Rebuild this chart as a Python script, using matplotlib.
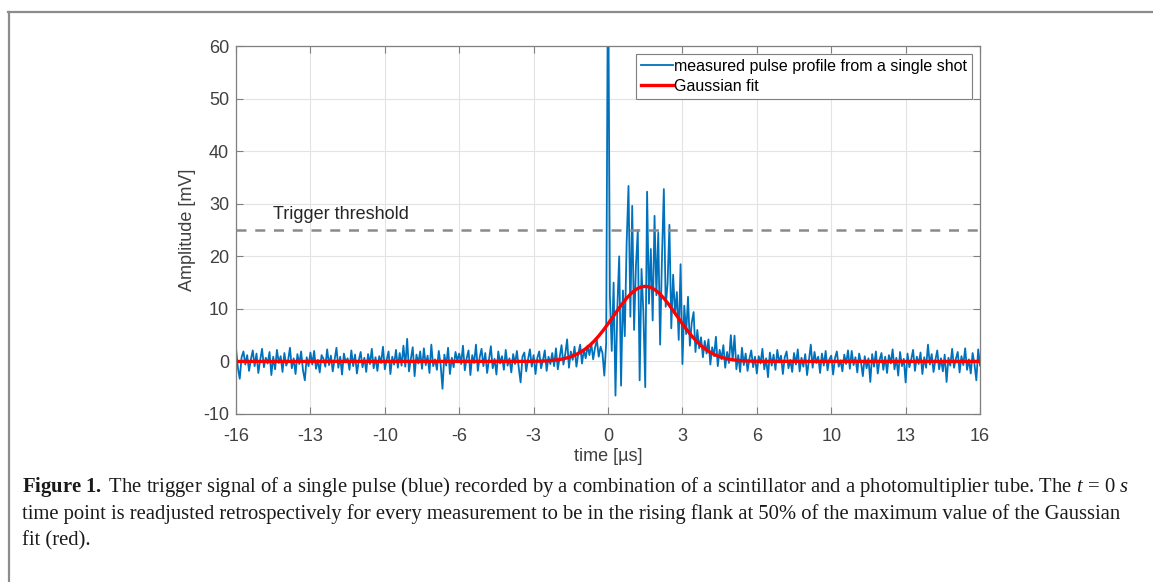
import numpy as np
import matplotlib.pyplot as plt
from matplotlib.lines import Line2D

plt.rcParams['font.family'] = ['Liberation Sans', 'DejaVu Sans']
plt.rcParams['axes.unicode_minus'] = False
plt.rcParams['mathtext.fontset'] = 'custom'
plt.rcParams['mathtext.rm'] = 'Liberation Serif'
plt.rcParams['mathtext.it'] = 'Liberation Serif:italic'
plt.rcParams['mathtext.bf'] = 'Liberation Serif:bold'

# single shot, sampled every 0.08 us from -16 us to 16 us
baseline_before = [
    2.5, -1.2, -3.3, 0.8, 1.9, -0.6, 1.2, -1.8, 0.4, 2.1,
    -0.9, 1.5, -2.2, 0.3, 2.4, -1.1, 0.7, -0.4, 1.8, -2.6,
    0.9, -1.5, 2.2, -0.3, 1.0, -2.0, 1.6, -0.8, 0.2, 2.6,
    -1.3, 0.6, -2.4, 1.4, -0.5, 1.9, -1.7, -3.6, 0.8, -0.9,
    1.7, -0.6, 2.0, -1.4, 0.3, -2.1, 1.2, 0.5, -1.0, 2.3,
    -0.7, 1.1, -1.9, 0.4, 2.6, -1.2, 0.9, -2.5, 1.5, -0.2,
    0.6, -1.6, 2.1, -0.9, 1.3, -2.3, 0.2, 1.8, -1.1, 0.7,
    -2.0, 1.4, -0.5, 2.4, -1.3, 0.8, -1.8, 1.0, -0.3, 2.8,
    -1.5, 0.3, 1.9, -2.4, 0.9, -0.6, 2.2, -1.2, 1.6, -0.8,
    3.0, -1.0, 4.3, -1.9, 0.5, 2.7, -2.8, 1.3, -0.4, 1.9,
    -1.4, 2.5, -0.7, 1.1, -2.2, 3.2, -0.9, 0.4, -1.6, 2.0,
    -0.6, -5.2, 1.3, -0.8, 2.6, -2.4, 0.7, -1.1, 1.8, 0.1,
    1.5, -0.5, 3.0, -1.7, 0.6, 2.1, -2.6, 1.2, -0.3, 3.2,
    -1.8, 0.8, 2.4, -0.9, 1.6, -2.2, 0.3, 2.9, -1.3, 0.5,
    -2.5, 1.9, -0.4, 1.0, -1.6, 2.2, -0.8, 0.6, -2.1, 1.4,
    -0.5, 2.0, -1.2, -4.0, 0.9, 1.7, -1.9, 0.4, 2.3, -1.0,
    1.2, -2.4, 0.7, 1.9, -1.3, 0.2, 2.1, -1.8, 0.9, -0.5,
    1.6, -0.9, 2.5, -1.5, 0.8, 3.1, -0.6, 1.4, 4.2, -1.2,
    1.9, 0.3, 2.8, -1.0, 1.5, 3.2, -0.4, 2.2, 0.6, 3.0,
    1.2, 3.4, 0.4, 2.6, 4.1, 0.9, 2.8, 1.6, -2.7, 3.5,
]
pulse = [
    80.0, 12.5, 2.0, 15.0, -6.5, 10.2, 20.0, -4.6, 13.5, 4.8,
    22.5, 33.4, 8.5, 29.6, 6.0, 18.2, 25.0, -3.6, 17.6, 9.3,
    -4.9, 32.3, 11.0, 21.4, 7.8, 27.7, 12.6, 24.5, 3.2, 19.8,
    32.8, 10.4, 14.8, 26.0, 6.3, 16.5, 9.0, 13.2, 4.1, 18.5,
    -0.5, 10.6, 5.2, 12.3, 3.0, 7.4, 9.4, 1.8, 6.0, 2.5,
    4.6, 0.8, 3.9, 1.5, 4.2, -0.6, 2.7, 1.0, 4.7, -0.9,
    2.2, 0.4, 3.1, -1.2, 1.8, -0.3, 5.0, 0.2, 4.9, -1.5,
]
baseline_after = [
    1.2, -2.0, 2.6, -0.7, 1.5, -1.8, 0.5, 2.1, -1.1, 0.9,
    -2.3, 1.0, -0.4, 2.4, -1.5, 0.6, -3.0, 1.7, -0.8, 1.3,
    -1.6, 2.2, -0.2, 1.1, -2.4, 0.8, 1.9, -1.3, 0.3, -2.0,
    1.6, -0.6, 2.3, -1.9, 0.7, -1.0, 1.4, -2.6, 0.2, 3.2,
    -1.2, 1.8, -0.3, 0.9, -2.2, 1.5, -0.8, 2.0, -1.7, 0.4,
    1.1, -2.5, 0.6, 1.9, -1.0, 0.2, -1.9, 1.3, -0.5, 2.1,
    -1.4, 2.0, -0.7, 0.8, -2.1, 1.5, -0.2, -2.8, 1.0, -1.3,
    0.6, -3.9, 1.4, -1.0, 1.9, -2.3, 0.3, 1.6, -1.6, 0.9,
    -2.2, 1.2, -0.4, 2.3, -1.5, 0.7, -2.7, 1.8, -0.9, 0.5,
    -4.0, 1.5, -1.1, 0.4, 2.2, -1.8, 0.9, -0.5, 1.7, -2.4,
    0.8, -1.2, 3.2, -0.6, 1.4, -2.0, 0.3, 2.1, -1.5, 0.6,
    -1.9, 1.3, -3.9, 0.7, -0.8, 2.4, -1.2, 0.5, 1.8, -2.1,
    1.0, -0.7, 2.5, -1.6, 0.4, -2.3, 1.6, -0.5, -3.6, 2.3,
    -0.8,
]

# Gaussian fit evaluated every 0.2 us around the pulse, flat outside
fit_core = [
    0.01, 0.02, 0.03, 0.05, 0.08, 0.12, 0.19, 0.29, 0.43, 0.63,
    0.90, 1.26, 1.72, 2.30, 3.01, 3.86, 4.85, 5.96, 7.16, 8.42,
    9.69, 10.91, 12.03, 12.97, 13.70, 14.15, 14.30, 14.15, 13.70, 12.97,
    12.03, 10.91, 9.69, 8.42, 7.16, 5.96, 4.85, 3.86, 3.01, 2.30,
    1.72, 1.26, 0.90, 0.63, 0.43, 0.29, 0.19, 0.12, 0.08, 0.05,
    0.03, 0.02, 0.01,
]
trigger_level = 25
x_tick_labels = ['-16', '-13', '-10', '-6', '-3', '0', '3', '6', '10', '13', '16']

signal = np.array(baseline_before + pulse + baseline_after)
t = np.linspace(-16, 16, len(signal))
fit_t = np.concatenate(([-16], np.linspace(-3.6, 6.8, len(fit_core)), [16]))
fit_v = np.array([0.0] + fit_core + [0.0])

fig = plt.figure(figsize=(11.53, 5.82), dpi=100)
ax = fig.add_axes([0.2047, 0.2887, 0.6453, 0.632])

ax.plot(t, signal, color='#0072BD', lw=1.3,
        label='measured pulse profile from a single shot')
ax.plot(fit_t, fit_v, color='#FF0000', lw=2.4, label='Gaussian fit')
ax.axhline(trigger_level, color='#8a8a8a', lw=1.8, dashes=(4, 3.5), zorder=3)
ax.text(-14.4, 28, 'Trigger threshold', fontsize=13, color='#262626', va='center')

ax.set_xlim(-16, 16)
ax.set_ylim(-10, 60)
ax.set_xticks(np.linspace(-16, 16, 11))
ax.set_xticklabels(x_tick_labels)
ax.set_yticks(np.arange(-10, 61, 10))
ax.grid(True, color='#e3e3e3', lw=0.8)
ax.set_axisbelow(True)
ax.tick_params(direction='in', top=True, right=True, length=5, width=0.8,
               color='#7f7f7f', labelcolor='#404040', labelsize=13, pad=5)
ax.tick_params(axis='x', pad=10)
for sp in ax.spines.values():
    sp.set_color('#7f7f7f')
    sp.set_linewidth(0.9)
ax.set_xlabel('time [µs]', fontsize=13, color='#404040', labelpad=2)
ax.set_ylabel('Amplitude [mV]', fontsize=13, color='#404040', labelpad=5)

leg = ax.legend(loc='upper right', fontsize=11.5, frameon=True, fancybox=False,
                framealpha=1, edgecolor='#7f7f7f', handlelength=2.0,
                handletextpad=0.1, borderpad=0.3, labelspacing=0.3,
                borderaxespad=0.5)
leg.get_frame().set_linewidth(0.8)

# page frame and caption
fig.add_artist(Line2D([8 / 1153, 1], [1 - 12 / 582] * 2, transform=fig.transFigure,
                      color='#8c8c8c', lw=1.6))
fig.add_artist(Line2D([8.5 / 1153] * 2, [0, 1 - 12 / 582], transform=fig.transFigure,
                      color='#8c8c8c', lw=1.6))

caption = [
    r'$\mathbf{Figure\ 1.\ }$The trigger signal of a single pulse (blue) recorded by a combination '
    r'of a scintillator and a photomultiplier tube. The $t\,=\,0\ s$',
    'time point is readjusted retrospectively for every measurement to be in the rising flank '
    'at 50% of the maximum value of the Gaussian',
    'fit (red).',
]
for k, line in enumerate(caption):
    fig.text(22 / 1153, 1 - (487 + 27 * k) / 582, line, fontsize=14.9,
             family='Liberation Serif', color='#1a1a1a', va='center', ha='left')

fig.savefig('out.png', dpi=100)
